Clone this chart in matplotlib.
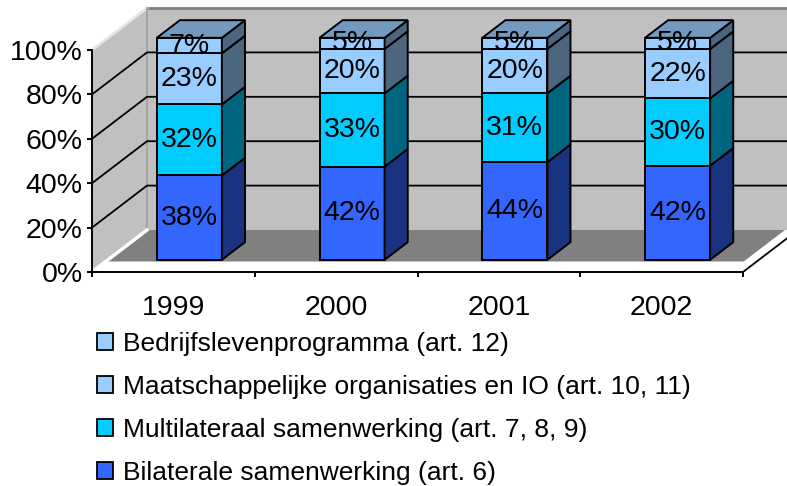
import matplotlib

matplotlib.use("Agg")
import matplotlib.pyplot as plt
from matplotlib.patches import Patch, Polygon
import numpy as np

plt.rcParams["font.family"] = ["Liberation Sans", "DejaVu Sans"]

years = ["1999", "2000", "2001", "2002"]
bilateraal = [38, 42, 44, 42]
multilateraal = [32, 33, 31, 30]
maatschappelijk = [23, 20, 20, 22]
bedrijfsleven = [7, 5, 5, 5]

seriesNames = [
    "Bilaterale samenwerking (art. 6)",
    "Multilateraal samenwerking (art. 7, 8, 9)",
    "Maatschappelijke organisaties en IO (art. 10, 11)",
    "Bedrijfslevenprogramma (art. 12)",
]
seriesValues = [bilateraal, multilateraal, maatschappelijk, bedrijfsleven]
frontColors = ["#3366FF", "#00CCFF", "#99CCFF", "#99CCFF"]
sideColors = ["#1A3380", "#006680", "#4C6680", "#4C6680"]
topColor = "#7399BF"

# oblique projection: depth 1 shifts by (depthX, depthY) in data units
depthX = 55.0 / 162.75
depthY = 42.0 / 222.0
barFront = 0.29
barBack = 0.71
barWidth = 0.40
xMax = 695.0 / 162.75
yMax = 272.0 / 222.0


def project(x, d, v):
    return x + depthX * d, v + depthY * d


def quad(ax, points, face, edge="none", lw=0.0, z=1):
    ax.add_patch(Polygon(points, closed=True, facecolor=face,
                         edgecolor=edge, linewidth=lw, zorder=z,
                         joinstyle="miter"))


fig = plt.figure(figsize=(7.87, 4.86), dpi=100)
ax = fig.add_axes([92 / 787, (486 - 272) / 486, 695 / 787, 272 / 486])
ax.set_xlim(0, xMax)
ax.set_ylim(0, yMax)
ax.patch.set_alpha(0)

wallGray = "#C0C0C0"
edgeGray = "#A0A0A0"
farX = xMax + 1

# back wall and left wall
quad(ax, [project(0, 1, 0), project(farX, 1, 0),
          project(farX, 1, 1), project(0, 1, 1)], wallGray, z=0)
quad(ax, [project(0, 0, 0), project(0, 1, 0),
          project(0, 1, 1), project(0, 0, 1)], wallGray, z=0)
ax.plot(*zip(project(0, 1, 1), project(farX, 1, 1)),
        color="#808080", linewidth=2.0, zorder=1)
ax.plot(*zip(project(0, 0, 1), project(0, 1, 1)),
        color="#E6E6E6", linewidth=2.0, zorder=1)
ax.plot(*zip(project(0, 1, 0), project(0, 1, 1)),
        color=edgeGray, linewidth=1.2, zorder=1)

gridValues = [0.2, 0.4, 0.6, 0.8]
for v in gridValues:
    ax.plot(*zip(project(0, 0, v), project(0, 1, v), project(farX, 1, v)),
            color="black", linewidth=1.3, zorder=1)

# floor
floorFront = 0.25
floorRight = 3.92
quad(ax, [project(0, floorFront, 0), project(floorRight, floorFront, 0),
          project(floorRight, 1, 0), project(0, 1, 0)], "#808080", z=2)
ax.plot(*zip(project(0, 0, 0), project(0, 1, 0)),
        color="white", linewidth=2.5, zorder=2)
ax.plot(*zip(project(4, 0, 0), project(4, 1.2, 0)),
        color="black", linewidth=1.3, zorder=2)

# stacked 3D bars
for i, year in enumerate(years):
    total = float(sum(s[i] for s in seriesValues))
    base = 0.0
    x0 = i + 0.5 - barWidth / 2
    for k, values in enumerate(seriesValues):
        top = base + values[i] / total
        fl = project(x0, barFront, base)
        fr = project(x0 + barWidth, barFront, base)
        tr = project(x0 + barWidth, barFront, top)
        tl = project(x0, barFront, top)
        br = project(x0 + barWidth, barBack, base)
        bt = project(x0 + barWidth, barBack, top)
        quad(ax, [fl, fr, tr, tl], frontColors[k], "black", 1.4, 3)
        quad(ax, [fr, br, bt, tr], sideColors[k], "black", 1.4, 3)
        if k == len(seriesValues) - 1:
            btl = project(x0, barBack, top)
            quad(ax, [tl, tr, bt, btl], topColor, "black", 1.4, 3)
        cx, cy = project(x0 + barWidth / 2, barFront, (base + top) / 2)
        ax.text(cx, cy, f"{values[i]}%", ha="center", va="center",
                fontsize=20.5, zorder=4)
        base = top
    ax.text(i + 0.5, -0.163, year, ha="center", va="center", fontsize=20.5)

# axes
for side in ["top", "right"]:
    ax.spines[side].set_visible(False)
ax.spines["left"].set_bounds(0, 1)
ax.spines["bottom"].set_bounds(0, 4)
ax.spines["left"].set_linewidth(1.4)
ax.spines["bottom"].set_linewidth(1.4)
ax.spines["left"].set_zorder(5)
ax.spines["bottom"].set_zorder(5)
ax.set_yticks(np.arange(0, 1.01, 0.2))
ax.set_yticklabels([f"{int(round(t * 100))}%" for t in np.arange(0, 1.01, 0.2)])
ax.set_xticks(range(5))
ax.set_xticklabels([])
ax.tick_params(axis="y", direction="out", length=3.6, width=1.4,
               pad=3.2, labelsize=20.5)
ax.tick_params(axis="x", direction="out", length=3.6, width=1.4)

handles = [Patch(facecolor=frontColors[k], edgecolor="black", linewidth=1.3)
           for k in range(len(seriesNames))][::-1]
fig.legend(handles, seriesNames[::-1], loc="upper left",
           bbox_to_anchor=(97 / 787, 1 - 332 / 486), frameon=False,
           fontsize=19, handlelength=0.6, handleheight=0.6,
           handletextpad=0.4, labelspacing=0.72, borderpad=0,
           borderaxespad=0)

fig.savefig("out.png", dpi=100)
